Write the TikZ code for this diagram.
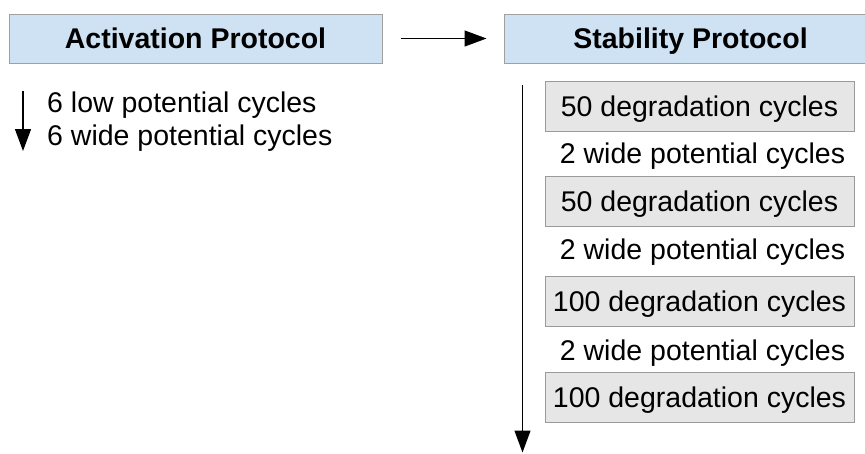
\documentclass[tikz,border=0pt]{standalone}
\usepackage{fontspec}
\setmainfont{Liberation Sans}
\usetikzlibrary{arrows.meta}
\definecolor{hdrfill}{HTML}{CFE2F3}
\definecolor{hdrline}{HTML}{A0A0A0}
\definecolor{boxfill}{HTML}{E6E6E6}
\definecolor{boxline}{HTML}{9A9A9A}
\tikzset{
  txt/.style={font=\fontsize{28.5}{33}\selectfont, inner sep=0pt, text height=20pt, text depth=0pt},
  header/.style={txt, font=\fontsize{28.5}{33}\selectfont\bfseries, draw=hdrline, fill=hdrfill, line width=1pt,
                 minimum width=373pt, minimum height=49pt},
  cyclebox/.style={txt, draw=boxline, fill=boxfill, line width=1pt, minimum width=309pt, minimum height=50pt},
  flow/.style={line width=1.3pt, -{Triangle[length=22pt,width=16pt]}}
}
\begin{document}
\begin{tikzpicture}[x=1pt,y=-1pt]
\clip (0,0) rectangle (865,453);
\fill[white] (0,0) rectangle (865,453);
\node[header] (act) at (195.5,38.5) {Activation Protocol};
\node[header] (stab) at (690.5,38.5) {Stability Protocol};
\draw[flow] ([xshift=18pt]act.east) -- ([xshift=-17pt]stab.west);

% activation steps
\node[txt, anchor=base west] (a1) at (47,112.5) {6 low potential cycles};
\node[txt, anchor=base west] (a2) at (47,145.5) {6 wide potential cycles};
\coordinate (as) at (23,91);
\coordinate (ae) at (23,151);
\draw[flow] (as) -- (ae);

% stability steps
\node[cyclebox] (s1) at (699.5,106.5) {50 degradation cycles};
\node[txt, anchor=base] (w1) at (702.5,163.3) {2 wide potential cycles};
\node[cyclebox] (s2) at (699.5,201.7) {50 degradation cycles};
\node[txt, anchor=base] (w2) at (702.5,259.5) {2 wide potential cycles};
\node[cyclebox] (s3) at (699.5,301.7) {100 degradation cycles};
\node[txt, anchor=base] (w3) at (702.5,360) {2 wide potential cycles};
\node[cyclebox] (s4) at (699.5,397) {100 degradation cycles};
\coordinate (ss) at (522.5,85);
\coordinate (se) at (522.5,452.5);
\draw[flow] (ss) -- (se);
\end{tikzpicture}
\end{document}
